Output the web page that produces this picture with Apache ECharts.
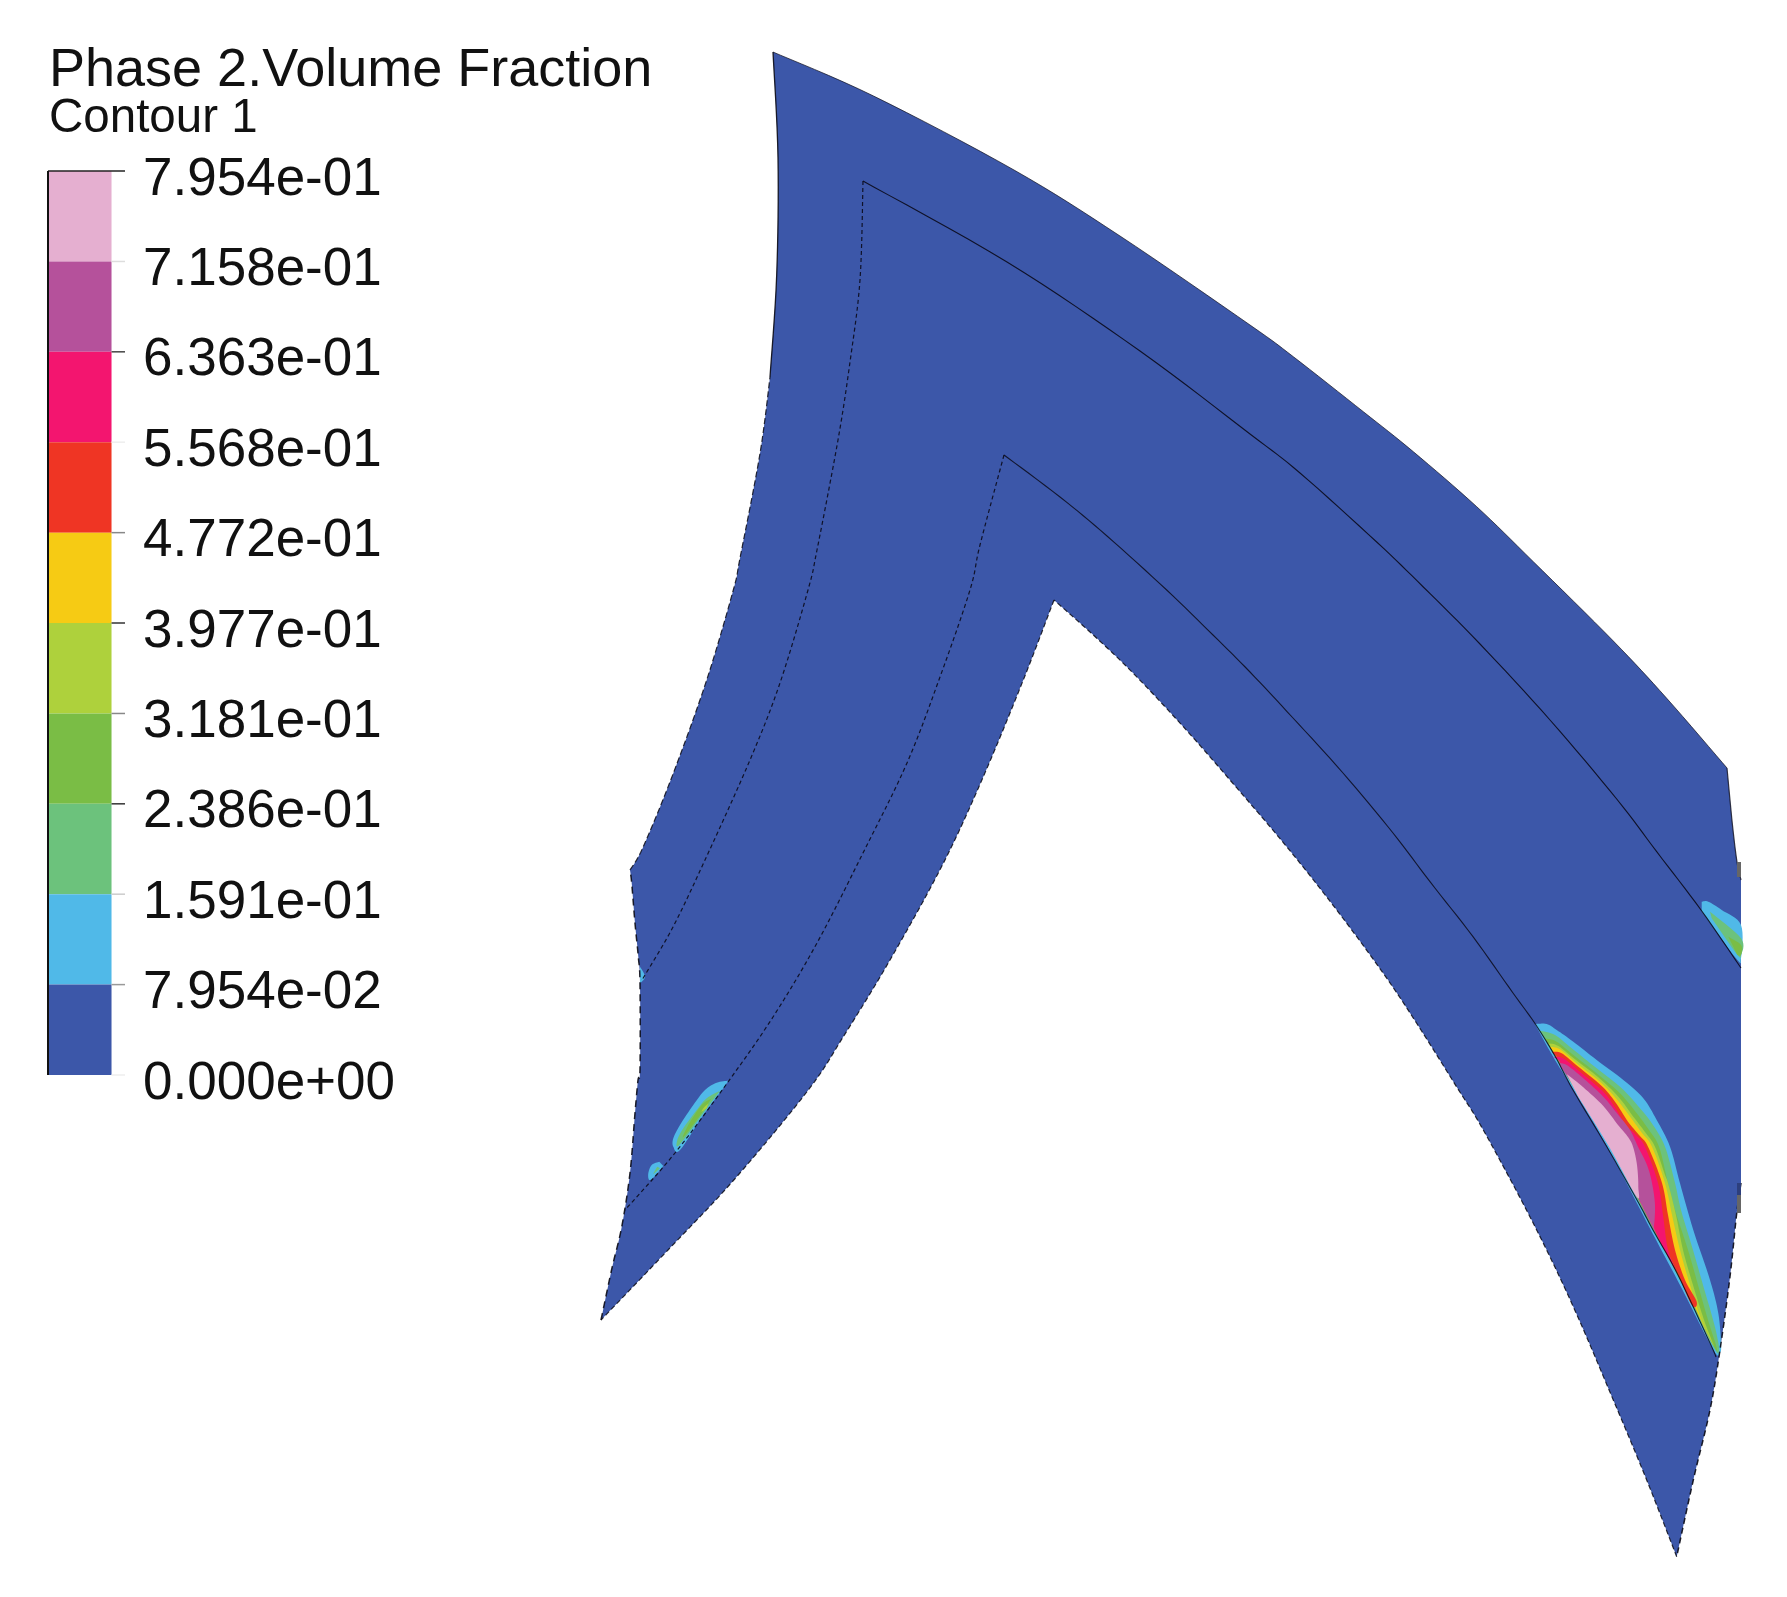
<!DOCTYPE html>
<html>
<head>
<meta charset="utf-8">
<title>Phase 2.Volume Fraction</title>
<script src="https://cdn.jsdelivr.net/npm/echarts@6/dist/echarts.min.js"></script>
<style>
  html, body { margin: 0; padding: 0; background: #fff; }
  #main { width: 1787px; height: 1597px; }
</style>
</head>
<body>
<div id="main"></div>
<script>
// contour levels, top to bottom
var tickLabels = ['7.954e-01', '7.158e-01', '6.363e-01', '5.568e-01', '4.772e-01', '3.977e-01', '3.181e-01', '2.386e-01', '1.591e-01', '7.954e-02', '0.000e+00'];
var tickColors = ['#222', '#ddd', '#444', '#eee', '#888', '#333', '#888', '#333', '#ccc', '#999', '#eee'];
var bandColors = ['#e5afd0', '#b5519b', '#f3156f', '#ef3524', '#f6cb14', '#aed13c', '#7abd45', '#6cc27c', '#50b9e8', '#3c57a9'];

// blade outline, in mesh units
var topEdge = [[773,52],[873.5,96],[1014,170],[1120,236],[1250,325],[1293.3,356.7],[1363.3,411.7],[1413.3,451.7],[1476.7,506.7],[1533.3,561.7],[1613.3,641],[1666.7,698.3],[1727,768]];
var rightTop = [[1727,768],[1730,800],[1733,830],[1737,862],[1741,880]];
var rightClip = [[1741,880],[1741,1183]];
var rightLow = [[1741,1183],[1736.7,1213.3],[1730,1276.7],[1720,1350],[1710,1410],[1693.3,1480],[1676.7,1556.7]];
var innerEdge = [[1676.7,1556.7],[1646.7,1480],[1613.3,1400],[1573.3,1306.7],[1533.3,1223.3],[1483.3,1130],[1456.7,1087],[1416.7,1023.3],[1383.3,973.3],[1336.7,910],[1286.7,846.7],[1230,780],[1183.3,726.7],[1133.3,673.3],[1093.3,635],[1054,600]];
var lowerEdge = [[1054,600],[1023.3,680],[983.3,776.7],[943.3,863.3],[890,960],[843.3,1036.7],[808.3,1090],[734.7,1179],[668,1250],[601,1320]];
var leftLow = [[601,1320],[612,1268],[621.7,1227],[630,1173],[635,1113],[638,1080],[640,1070],[640,983.3],[638.3,956.7],[635,923.3],[631.7,883],[630,870]];
var leftMid = [[630,870],[643.3,846.7],[673.3,773.3],[706.7,680],[733.3,590],[740,558],[760,453.5],[770,377]];
var leftTop = [[770,377],[776.7,275],[778,157.6],[773,52]];

// interface lines between the zones
var line1Left = [[863,181],[860,280],[850,362],[838,440],[817,550],[808,590],[780,683],[750,760],[705,860],[673,927],[645,975],[642,980]];
var line1Right = [[863,181],[1007,262],[1140,351],[1250,434],[1300,473],[1376.7,542],[1423.3,587],[1480,644],[1550,720],[1616.7,799],[1656.7,851.7],[1701,910],[1741,968]];
var line2Left = [[1004,455],[980,545],[970,590],[940,677],[907,763],[863,853],[817,943],[773,1017],[728,1082],[675,1153],[625,1210]];
var line2Right = [[1004,455],[1060,497],[1107,536],[1166.7,590],[1213,635],[1250,672],[1293,718],[1343,773],[1393,833],[1430,881.7],[1473,936.7],[1513,993],[1535,1023.5],[1555,1056],[1573,1090],[1607,1147],[1637,1200],[1653,1230],[1677,1273],[1710,1343],[1716,1357]];

// main patch on the lower right, lowest band first
var patchA1 = [[1535,1024],[1546.7,1024],[1556.7,1030],[1573.3,1041.7],[1596.7,1060],[1623.3,1080],[1643.3,1098.3],[1656.7,1120],[1670,1146.7],[1680,1183.3],[1693.3,1230],[1710,1280],[1718.3,1313.3],[1721,1343.3],[1720,1352.7],[1713.3,1350],[1681.7,1288.3],[1651.7,1231.7],[1610,1151.7],[1576.7,1095],[1555,1060],[1540,1033.3]];
var patchA2 = [[1540,1030.7],[1555,1035],[1571.7,1048.3],[1596.7,1068.3],[1621.7,1088.3],[1640,1108.3],[1653,1125],[1665,1146.7],[1675,1183],[1681,1210],[1693,1250],[1703,1285],[1712,1316],[1717,1336],[1719,1351],[1713.3,1346.7],[1683.3,1286.7],[1653.3,1230],[1611.7,1150],[1578.3,1095],[1556.7,1059.3]];
var patchA3 = [[1545,1038.3],[1556.7,1041.7],[1573.3,1055],[1596.7,1073.3],[1620,1093.3],[1636.7,1113.3],[1649,1130],[1659,1146.7],[1668,1183],[1675,1210],[1688,1250],[1698,1285],[1708,1320],[1716.7,1348],[1713.3,1345],[1684,1286.7],[1654,1230],[1612.3,1150],[1579,1095],[1557.3,1059.3]];
var patchA4 = [[1548.3,1043.3],[1558.3,1046],[1575,1059.3],[1598.3,1077.3],[1618.3,1096.7],[1633.3,1116.7],[1645,1132],[1655,1146.7],[1665,1175],[1668,1183],[1676,1215],[1683,1250],[1693,1285],[1704,1320],[1713,1345],[1684.5,1286.7],[1654.5,1230],[1613,1150],[1579.7,1095],[1558,1059.3]];
var patchA5 = [[1550,1046.7],[1560,1049.3],[1576.7,1063.3],[1600,1081.7],[1616.7,1099.3],[1631,1118],[1642,1133],[1652,1146.7],[1665,1183],[1672,1215],[1680,1250],[1690,1285],[1700,1316],[1710.7,1343],[1685,1284],[1655,1230],[1613.5,1150],[1580,1095],[1558.5,1059.3]];
var patchA6 = [[1551.7,1051.7],[1561.7,1053.3],[1578.3,1066.7],[1601.7,1086],[1615,1101.7],[1628,1121.7],[1639,1135],[1648,1146.7],[1662,1183],[1668,1215],[1675,1250],[1685,1280],[1696.7,1301.7],[1691.7,1305],[1676.7,1271.7],[1655.7,1228],[1614,1150],[1580.7,1095],[1559,1059.3]];
var patchA7 = [[1553.3,1056.7],[1563.3,1058.3],[1580,1071.7],[1603.3,1091.7],[1613.3,1105],[1626,1125],[1636,1135],[1645,1146.7],[1658,1183],[1663,1215],[1668,1250],[1676.7,1271.7],[1663.3,1248.3],[1652.7,1226.7],[1613.3,1150],[1580,1095],[1558.3,1060]];
var patchA8 = [[1558.3,1063.3],[1566.7,1065],[1583.3,1078.3],[1603.3,1096.7],[1618.3,1115],[1630,1130],[1638,1146.7],[1647,1165],[1652,1183],[1655,1205],[1654,1226],[1652.7,1226.7],[1613.3,1150],[1580,1095]];
var patchA9 = [[1566.7,1074],[1583.3,1087.3],[1603.3,1106],[1618,1125],[1628,1137],[1633,1146.7],[1637,1165],[1638.3,1186.7],[1636.5,1196.7],[1610,1148.3],[1578.3,1096.7]];

// patch on the right border
var patchB1 = [[1701.7,901.7],[1708.3,901.7],[1721.7,910],[1741,925],[1741,958.3],[1736,958.3],[1701.7,911.7]];
var patchB2 = [[1710,911.7],[1741,938.3],[1741,955],[1736.7,954],[1711.7,918.3]];
var patchB3 = [[1728.3,936.7],[1741,945],[1741,955],[1737.3,955]];

// patches on the lower left
var patchC1 = [[728.3,1080.7],[716.7,1082.7],[705,1090],[693.3,1105],[680,1125],[673.3,1138.3],[673.3,1146.7],[680,1150],[703.3,1115],[723.3,1088.3]];
var patchC2 = [[720,1090.7],[706.7,1098.3],[696.7,1110],[683.3,1128.3],[677.3,1140],[679.3,1145],[703.3,1113.3]];
var patchC3 = [[711.7,1098.3],[701.7,1105],[688.3,1125],[683.3,1137.3],[701.7,1113.3]];
var patchC4 = [[708.3,1103.3],[703.3,1108.3],[701.7,1111.7],[706.7,1108.3]];
var patchD1 = [[659.3,1161.7],[651.7,1165],[648.3,1173.3],[649.3,1180],[655,1176],[663.3,1166]];
var patchD2 = [[657.3,1166.7],[653.3,1174],[660,1168.3]];
var patchE1 = [[640,966.7],[645,976.7],[640,983.3]];

var tickValues = tickLabels.map(Number);

// filled regions: edges, band index into bandColors
var regions = [
  [[topEdge, rightTop, rightClip, rightLow, innerEdge, lowerEdge, leftLow, leftMid, leftTop], 9],
  [[patchA1], 8], [[patchA2], 7], [[patchA3], 6], [[patchA4], 5], [[patchA5], 4], [[patchA6], 3], [[patchA7], 2], [[patchA8], 1], [[patchA9], 0],
  [[patchB1], 8], [[patchB2], 7], [[patchB3], 6],
  [[patchC1], 8], [[patchC2], 7], [[patchC3], 6], [[patchC4], 5],
  [[patchD1], 8], [[patchD2], 7], [[patchE1], 8]
];

// stroked edges: points, colour, width, dash
var strokes = [
  [topEdge, 'rgba(15,15,30,0.7)', 1, null],
  [rightTop, 'rgba(15,15,30,0.8)', 1.2, null],
  [rightLow, 'rgba(10,10,20,0.9)', 1.5, [6, 4]],
  [innerEdge, 'rgba(10,10,20,0.85)', 1.2, [5, 3]],
  [lowerEdge, 'rgba(10,10,20,0.85)', 1.2, [5, 3]],
  [leftLow, 'rgba(10,10,20,0.9)', 1.5, [7, 5]],
  [leftMid, 'rgba(10,10,20,0.85)', 1.2, [6, 3]],
  [leftTop, 'rgba(10,10,20,0.9)', 1.3, null],
  [line1Left, 'rgba(10,10,25,0.9)', 1.2, [4, 3]],
  [line1Right, 'rgba(10,10,25,0.9)', 1.1, null],
  [line2Left, 'rgba(10,10,25,0.9)', 1.2, [4, 3]],
  [line2Right, 'rgba(10,10,25,0.85)', 1.1, null],
  [[[1739,862],[1739,877]], '#666', 4, null],
  [[[1739,1183],[1739,1195]], '#2d3f7d', 4, null],
  [[[1739,1195],[1739,1213]], '#666', 4, null]
];

var barEnd = 0.825;

// rounds a run of read-off points into a curve on screen, ends stay put
function spline(pts) {
  var out = [];
  for (var i = 0; i < pts.length - 1; i++) {
    var p0 = pts[i - 1] || pts[i], p1 = pts[i], p2 = pts[i + 1], p3 = pts[i + 2] || pts[i + 1];
    for (var s = 0; s < 8; s++) {
      var t = s / 8, t2 = t * t, t3 = t2 * t;
      out.push([
        0.5 * (2 * p1[0] + (p2[0] - p0[0]) * t + (2 * p0[0] - 5 * p1[0] + 4 * p2[0] - p3[0]) * t2 + (3 * p1[0] - p0[0] - 3 * p2[0] + p3[0]) * t3),
        0.5 * (2 * p1[1] + (p2[1] - p0[1]) * t + (2 * p0[1] - 5 * p1[1] + 4 * p2[1] - p3[1]) * t2 + (3 * p1[1] - p0[1] - 3 * p2[1] + p3[1]) * t3)
      ]);
    }
  }
  out.push(pts[pts.length - 1]);
  return out;
}

var chart = echarts.init(document.getElementById('main'));
chart.setOption({
  backgroundColor: '#fff',
  animation: false,
  title: [
    { text: 'Phase 2.Volume Fraction', left: 44, top: 39, textStyle: { fontFamily: 'Liberation Sans', fontSize: 54, fontWeight: 'normal', color: '#111' } },
    { text: 'Contour 1', left: 44, top: 90, textStyle: { fontFamily: 'Liberation Sans', fontSize: 47.5, fontWeight: 'normal', color: '#111' } }
  ],
  grid: [
    { left: 0, top: 0, width: 1787, height: 1597 },
    { left: 48, top: 171, width: 77, height: 904 }
  ],
  xAxis: [
    { type: 'value', gridIndex: 0, min: 0, max: 1787, show: false },
    { type: 'value', gridIndex: 1, min: 0, max: 1, show: false }
  ],
  yAxis: [
    { type: 'value', gridIndex: 0, min: 0, max: 1597, inverse: true, show: false },
    {
      type: 'value', gridIndex: 1, position: 'right', min: 0, max: tickValues[0],
      splitLine: { show: false }, axisLine: { show: false }, axisTick: { show: false },
      axisLabel: {
        show: true, customValues: tickValues, margin: 18,
        fontFamily: 'Liberation Sans', fontSize: 53, color: '#111',
        verticalAlign: 'top', lineHeight: 18,
        formatter: function (v) { return tickLabels[tickValues.indexOf(v)]; }
      }
    }
  ],
  series: [
    {
      type: 'custom', xAxisIndex: 0, yAxisIndex: 0, silent: true, clip: false, z: 2,
      data: regions.map(function (r, i) { return [i]; }),
      encode: { x: -1, y: -1 },
      renderItem: function (params, api) {
        var r = regions[params.dataIndex];
        var points = [];
        r[0].forEach(function (edge) {
          points = points.concat(spline(edge.map(function (p) { return api.coord(p); })));
        });
        return { type: 'polygon', shape: { points: points }, style: { fill: bandColors[r[1]] } };
      }
    },
    {
      type: 'custom', xAxisIndex: 0, yAxisIndex: 0, silent: true, clip: false, z: 4,
      data: strokes.map(function (r, i) { return [i]; }),
      encode: { x: -1, y: -1 },
      renderItem: function (params, api) {
        var r = strokes[params.dataIndex];
        return {
          type: 'polyline',
          shape: { points: spline(r[0].map(function (p) { return api.coord(p); })) },
          style: { fill: null, stroke: r[1], lineWidth: r[2], lineDash: r[3] }
        };
      }
    },
    {
      // colour bar cells
      type: 'custom', xAxisIndex: 1, yAxisIndex: 1, silent: true, z: 2,
      data: bandColors.map(function (c, i) { return [i]; }),
      encode: { x: -1, y: -1 },
      renderItem: function (params, api) {
        var i = params.dataIndex;
        var a = api.coord([0, tickValues[i]]);
        var b = api.coord([barEnd, tickValues[i + 1]]);
        return { type: 'rect', shape: { x: a[0], y: a[1], width: b[0] - a[0], height: b[1] - a[1] }, style: { fill: bandColors[i] } };
      }
    },
    {
      // colour bar ticks
      type: 'custom', xAxisIndex: 1, yAxisIndex: 1, silent: true, z: 3,
      data: tickValues.map(function (v, i) { return [i]; }),
      encode: { x: -1, y: -1 },
      renderItem: function (params, api) {
        var i = params.dataIndex;
        var a = api.coord([i === 0 ? 0 : barEnd, tickValues[i]]);
        var b = api.coord([1, tickValues[i]]);
        return { type: 'line', shape: { x1: a[0], y1: a[1], x2: b[0], y2: b[1] }, style: { stroke: tickColors[i], lineWidth: 1.5 } };
      }
    },
    {
      // left side of the colour bar
      type: 'line', xAxisIndex: 1, yAxisIndex: 1, silent: true, showSymbol: false, z: 3, clip: false,
      data: [[0, tickValues[0]], [0, 0]],
      lineStyle: { color: '#111', width: 2 }
    }
  ]
});
</script>
</body>
</html>
